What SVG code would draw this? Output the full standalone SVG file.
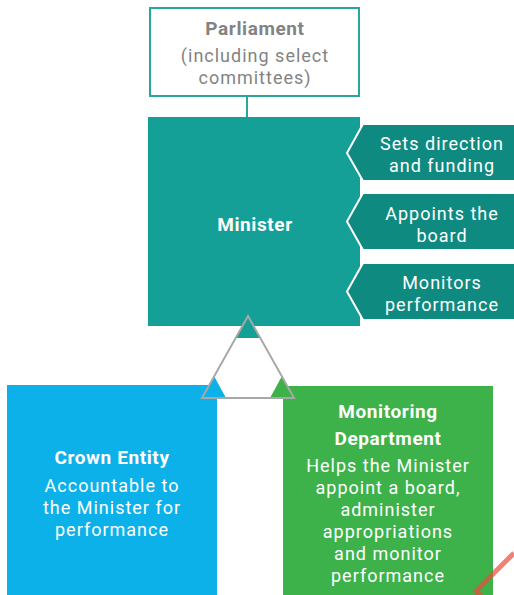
<svg xmlns="http://www.w3.org/2000/svg" width="514" height="595" viewBox="0 0 514 595">
<style>
.t{font-family:Roboto,"Liberation Sans",sans-serif;font-size:18px;letter-spacing:1px;text-anchor:middle}
.w{fill:#ffffff}
.g{fill:#838383}
.b{font-weight:bold;font-size:19px;letter-spacing:0.6px}
.chev{fill:#0f8a80;stroke:#ffffff;stroke-width:2}
</style>
<rect width="514" height="595" fill="#ffffff"/>
<g id="connectors">
<line x1="247" y1="96" x2="247" y2="118" stroke="#2aa59c" stroke-width="2"/>
</g>
<g id="parliament">
<rect x="150" y="8" width="209" height="88" fill="#ffffff" stroke="#2aa59c" stroke-width="2"/>
<text class="t g b" x="255" y="35">Parliament</text>
<text class="t g" x="255" y="62">(including select</text>
<text class="t g" x="255" y="84">committees)</text>
</g>
<g id="minister">
<rect x="148" y="117" width="212" height="209" fill="#14a097"/>
<text class="t w b" x="255" y="231">Minister</text>
</g>
<g id="sets-direction">
<path class="chev" d="M363,124 L516,124 L516,181 L363,181 L347,153 Z"/>
<text class="t w" x="442" y="150">Sets direction</text>
<text class="t w" x="442" y="172">and funding</text>
</g>
<g id="appoints">
<path class="chev" d="M363,193 L516,193 L516,250 L363,250 L347,221.5 Z"/>
<text class="t w" x="442" y="220">Appoints the</text>
<text class="t w" x="442" y="242">board</text>
</g>
<g id="monitors">
<path class="chev" d="M363,263 L516,263 L516,320 L363,320 L347,291.5 Z"/>
<text class="t w" x="442" y="289">Monitors</text>
<text class="t w" x="442" y="311">performance</text>
</g>
<g id="crown-entity">
<rect x="7" y="385" width="210" height="212" fill="#0db1ea"/>
<text class="t w b" x="112" y="464">Crown Entity</text>
<text class="t w" x="112" y="492">Accountable to</text>
<text class="t w" x="112" y="514">the Minister for</text>
<text class="t w" x="112" y="536">performance</text>
</g>
<g id="monitoring-department">
<rect x="283" y="386" width="210" height="211" fill="#3db24a"/>
<text class="t w b" x="388" y="418">Monitoring</text>
<text class="t w b" x="388" y="445">Department</text>
<text class="t w" x="388" y="472">Helps the Minister</text>
<text class="t w" x="388" y="494">appoint a board,</text>
<text class="t w" x="388" y="516">administer</text>
<text class="t w" x="388" y="538">appropriations</text>
<text class="t w" x="388" y="560">and monitor</text>
<text class="t w" x="388" y="582">performance</text>
</g>
<g id="triangle">
<path d="M248,316 L294,398 L202,398 Z" fill="#ffffff"/>
<path d="M248,316 L260,338 L236,338 Z" fill="#14a097"/>
<path d="M202,398 L214,376 L226,398 Z" fill="#0db1ea"/>
<path d="M294,398 L282,376 L270,398 Z" fill="#3db24a"/>
<path d="M248,316 L294,398 L202,398 Z" fill="none" stroke="#a8a8a8" stroke-width="2" stroke-linejoin="miter"/>
</g>
<g id="mark">
<polyline points="514,553 476,591 482,597" fill="none" stroke="#f04a3a" stroke-opacity="0.7" stroke-width="5"/>
</g>
</svg>
